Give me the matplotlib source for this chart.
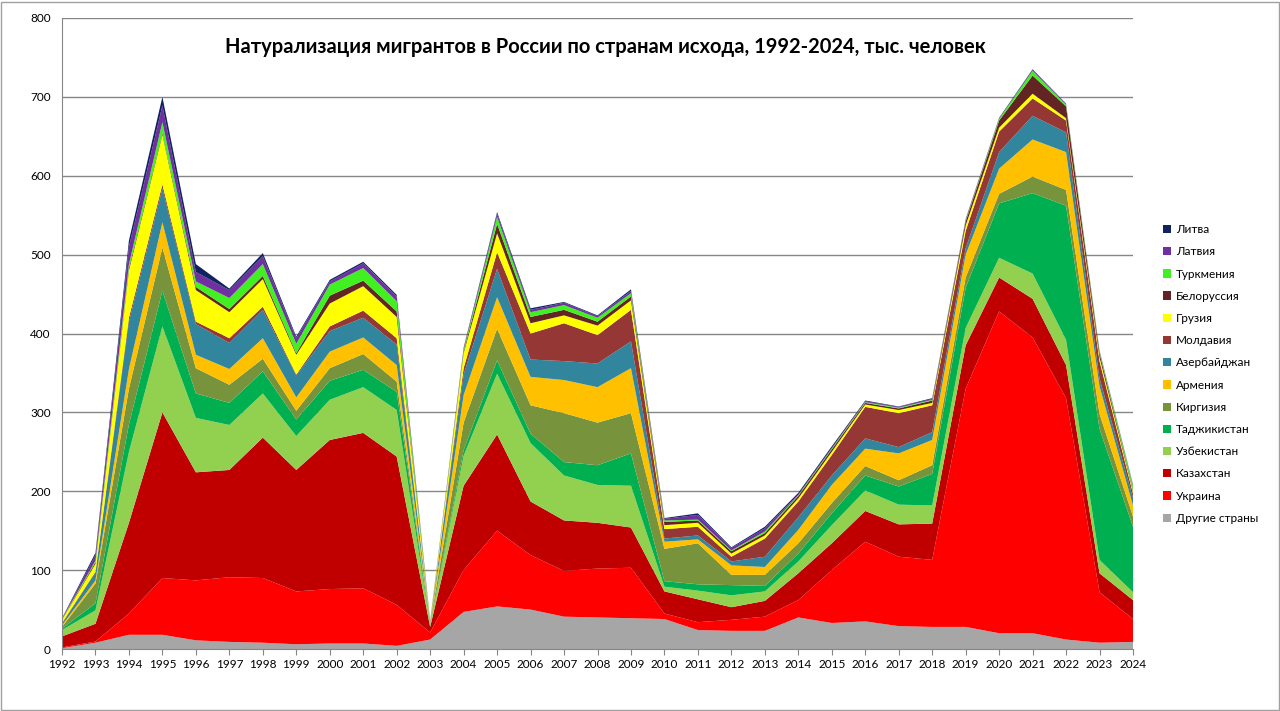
import matplotlib
matplotlib.use("Agg")
import matplotlib.pyplot as plt
from matplotlib.patches import Rectangle, Patch

years = list(range(1992, 2025))

other = [1, 8, 18, 18, 11, 9, 8, 6, 7, 7, 4, 12, 47, 54, 50, 41, 40, 39, 38, 24, 23, 23, 40, 33, 35, 29, 28, 28, 20, 20, 12, 8, 9]
ukraine = [1, 1.5, 27, 72, 76, 82, 82, 67, 69, 70, 52, 9, 53, 96, 69, 58, 62, 64, 7, 10, 14, 18, 22, 67, 101, 88, 85, 302, 408, 375, 306, 64, 29]
kazakhstan = [14, 22.5, 115, 210, 137, 136, 178, 154, 189, 197, 188, 7, 107, 122, 68, 64, 58, 51, 28, 29, 16, 20, 34, 34, 39, 41, 46, 55, 43, 49, 42, 24, 24]
uzbekistan = [8, 17, 90, 109, 69, 57, 56, 43, 51, 58, 59, 2, 38, 77, 74, 57, 48, 53, 6, 11, 15, 12, 15, 23, 26, 25, 23, 22, 25, 32, 32, 17, 10]
tajikistan = [2, 9, 35, 45, 31, 28, 28, 21, 24, 22, 23, 1, 7, 17, 12, 17, 25, 41, 7, 8, 13, 7, 10, 15, 19, 23, 40, 51, 69, 102, 170, 166, 83]
kyrgyzstan = [2, 25, 45, 55, 32, 23, 16, 11, 16, 20, 13, 1, 35, 40, 36, 62, 54, 51, 41, 52, 13, 14, 13, 13, 12, 8, 11, 13, 12, 21, 20, 19, 13]
armenia = [2, 4, 25, 32, 17, 20, 26, 17, 21, 21, 21, 0.5, 35, 40, 36, 42, 45, 57, 9, 5, 12, 10, 17, 23, 22, 34, 32, 29, 32, 47, 48, 35, 14]
azerbaijan = [2, 10, 60, 43, 39, 33, 36, 28, 26, 25, 26, 0.5, 26, 36, 22, 24, 30, 34, 4, 5, 5, 13, 16, 12, 13, 8, 10, 8, 21, 30, 25, 10, 10]
moldova = [1, 1, 5, 5, 3, 6, 4, 1, 6, 9, 8, 0.5, 8, 21, 33, 48, 36, 40, 12, 11, 6, 23, 20, 26, 40, 43, 34, 22, 26, 22, 15, 22, 5]
georgia = [4, 10, 60, 63, 40, 33, 35, 25, 29, 31, 27, 1, 19, 24, 13, 10, 12, 12, 5, 5, 4, 4, 4, 4, 3, 4, 3, 7, 5, 6, 3, 5, 3]
belarus = [0.5, 2, 3, 2, 4, 4, 4, 2, 10, 7, 7, 0.5, 2, 12, 8, 7, 5, 5, 4, 3, 3, 3, 3, 3, 2, 2, 3, 5, 9, 23, 15, 5, 2]
turkmenistan = [0.5, 2, 5, 14, 7, 14, 15, 12, 14, 16, 13, 0.3, 2, 9, 6, 6, 5, 4, 2, 1, 1, 2, 1, 1, 1, 1, 1, 1, 2, 6, 2, 2, 5]
latvia = [0.5, 7, 22, 21, 12, 10, 10, 7, 4, 6, 6, 0.3, 2, 4, 3, 3, 2, 3, 2, 6, 3, 4, 1, 1, 1, 1, 1, 1, 1, 1, 1, 1, 1]
lithuania = [0.5, 3, 8, 11, 10, 2, 4, 2, 2, 2, 2, 0.3, 1, 2, 2, 1, 1, 2, 1, 2, 1, 2, 2, 2, 1, 0.5, 1, 1, 0.5, 1, 0.5, 0.5, 0.5]

labels = ["Другие страны", "Украина", "Казахстан", "Узбекистан", "Таджикистан", "Киргизия",
          "Армения", "Азербайджан", "Молдавия", "Грузия", "Белоруссия", "Туркмения", "Латвия", "Литва"]
series = [other, ukraine, kazakhstan, uzbekistan, tajikistan, kyrgyzstan, armenia, azerbaijan,
          moldova, georgia, belarus, turkmenistan, latvia, lithuania]
colors = ["#A6A6A6", "#FF0000", "#C00000", "#92D050", "#00B050", "#77933C", "#FFC000", "#31859C",
          "#953735", "#FFFF00", "#632523", "#40F020", "#7030A0", "#0F2361"]

title = "Натурализация мигрантов в России по странам исхода, 1992-2024, тыс. человек"

plt.rcParams['font.family'] = ['Lato', 'DejaVu Sans']

fig = plt.figure(figsize=(12.8, 7.11), dpi=100)
fig.patch.set_facecolor("white")
ax = fig.add_axes([62/1280, 62/711, (1133-62)/1280, (649-18)/711])

ax.stackplot(years, *series, colors=colors, labels=labels, linewidth=0)

ax.set_xlim(1992, 2024)
ax.set_ylim(0, 800)
ax.set_yticks(range(0, 801, 100))
ax.set_xticks(years)
ax.set_xticklabels([str(y) for y in years])
ax.grid(axis='y', color='#868686', linewidth=1)
ax.set_axisbelow(True)
for s in ['top', 'right']:
    ax.spines[s].set_visible(False)
ax.spines['left'].set_color('#868686')
ax.spines['bottom'].set_color('#868686')
ax.tick_params(axis='y', length=0, labelsize=8.5, pad=8, colors='#000000')
ax.tick_params(axis='x', length=4, labelsize=8.5, pad=3, color='#868686', direction='out')

fig.text(605/1280, 1 - 47/711, title, ha='center', va='center', fontsize=14.5, fontweight='bold')

handles = [Patch(facecolor=c, edgecolor='none') for c in colors[::-1]]
leg = fig.legend(handles, labels[::-1], loc='center left', bbox_to_anchor=(1152/1280, 1 - 374/711),
                 frameon=False, fontsize=8.5, handlelength=0.7, handleheight=0.7,
                 handletextpad=0.45, labelspacing=0.95)

fig.add_artist(Rectangle((1/1280, 1/711), 1278/1280, 708/711, transform=fig.transFigure,
                         fill=False, edgecolor='#A0A0A0', linewidth=1))

fig.savefig("out.png", dpi=100)
